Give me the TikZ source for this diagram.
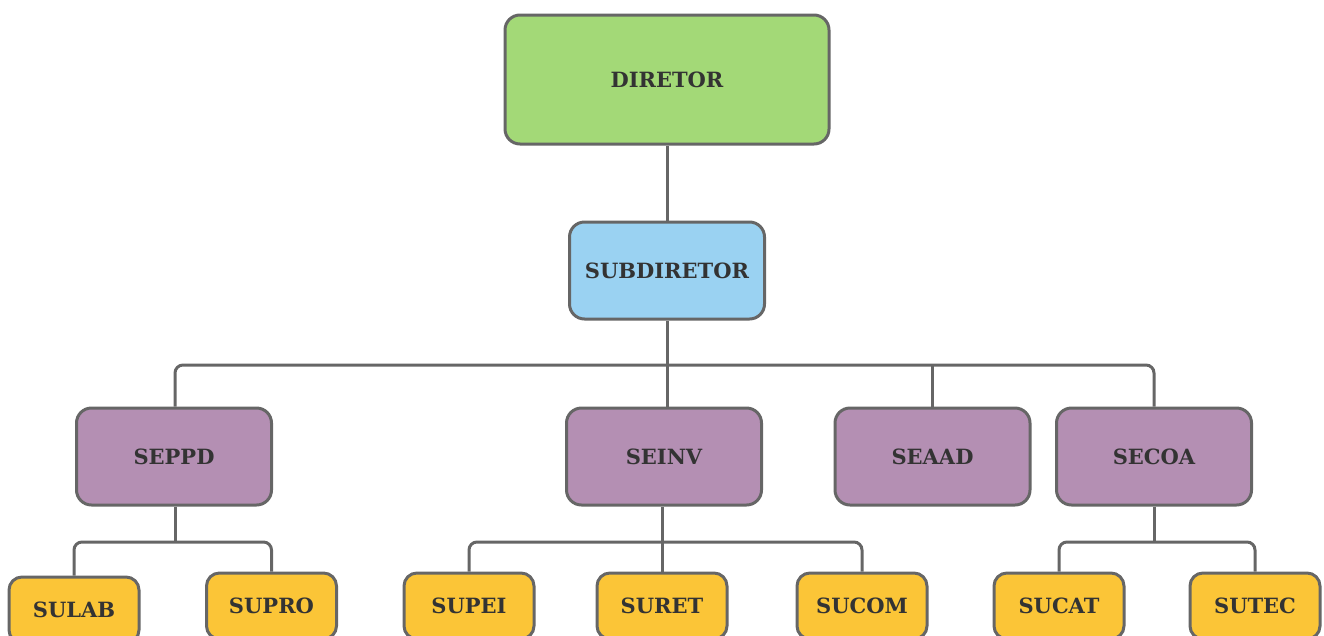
\documentclass[tikz,border=0pt]{standalone}
\usepackage{fontspec}
\setmainfont{DejaVu Serif}
\definecolor{cgreen}{HTML}{A3D977}
\definecolor{cblue}{HTML}{9AD2F2}
\definecolor{cpurple}{HTML}{B48FB3}
\definecolor{cyellow}{HTML}{FBC537}
\definecolor{cline}{HTML}{666666}
\definecolor{ctext}{HTML}{333333}
\tikzset{
  box/.style={draw=cline, line width=3pt, rounded corners=15pt, font=\fontsize{21}{25}\selectfont\bfseries, text=ctext, inner sep=0pt, anchor=center},
  topbox/.style={box, fill=cgreen, minimum width=324pt, minimum height=129pt},
  subbox/.style={box, fill=cblue, minimum width=195pt, minimum height=97pt},
  secbox/.style={box, fill=cpurple, minimum width=195pt, minimum height=97pt},
  unitbox/.style={box, fill=cyellow, minimum width=130pt, minimum height=66pt, rounded corners=13pt},
  link/.style={draw=cline, line width=3pt, rounded corners=8pt},
}
\begin{document}
\begin{tikzpicture}[x=1pt,y=-1pt]
\useasboundingbox (0,0) rectangle (1324,635);
\clip (0,0) rectangle (1324,635);
\node[topbox] (dir) at (667,79.5) {DIRETOR};
\node[subbox] (sub) at (667,270.5) {SUBDIRETOR};
\node[secbox] (seppd) at (174,456.5) {SEPPD};
\node[secbox] (seinv) at (664,456.5) {SEINV};
\node[secbox] (seaad) at (932.5,456.5) {SEAAD};
\node[secbox] (secoa) at (1154,456.5) {SECOA};
\node[unitbox] (sulab) at (74,610) {SULAB};
\node[unitbox] (supro) at (271.5,606) {SUPRO};
\node[unitbox] (supei) at (469,606) {SUPEI};
\node[unitbox] (suret) at (662,606) {SURET};
\node[unitbox] (sucom) at (862,606) {SUCOM};
\node[unitbox] (sucat) at (1059,606) {SUCAT};
\node[unitbox] (sutec) at (1255,606) {SUTEC};
\coordinate (b1) at (667,365);
\coordinate (b2) at (175,542);
\coordinate (b3) at (662,542);
\coordinate (b4) at (1154,542);
\draw[link] (dir.south) -- (dir.south |- sub.north);
\draw[link] (sub.south) -- (sub.south |- seinv.north);
\draw[link] (seppd.north -| b2) |- (b1) -| (secoa.north);
\draw[link] (seaad.north) -- (seaad.north |- b1);
\draw[link] (seppd.south -| b2) -- (b2);
\draw[link] (sulab.north) |- (b2) -| (supro.north);
\draw[link] (seinv.south -| b3) -- (suret.north);
\draw[link] (supei.north) |- (b3) -| (sucom.north);
\draw[link] (secoa.south) -- (b4);
\draw[link] (sucat.north) |- (b4) -| (sutec.north);
\end{tikzpicture}
\end{document}
